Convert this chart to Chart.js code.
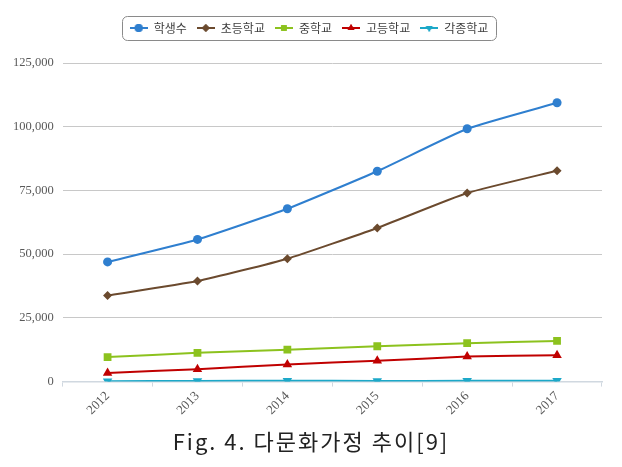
<!DOCTYPE html>
<html><head><meta charset="utf-8">
<script src="https://cdn.jsdelivr.net/npm/chart.js@4.4.0/dist/chart.umd.min.js"></script>
<style>html,body{margin:0;padding:0;background:#fff}#wrap{width:622px;height:467px}</style>
</head><body><div id="wrap"><canvas id="c" width="622" height="467"></canvas></div>
<script>
const years = ['2012','2013','2014','2015','2016','2017'];
const students = [46954, 55780, 67806, 82536, 99186, 109387];
const elementary = [33740, 39430, 48225, 60283, 73972, 82733];
const middle = [9627, 11294, 12525, 13865, 15080, 15945];
const high = [3409, 4827, 6734, 8146, 9816, 10334];
const misc = [178, 229, 322, 242, 318, 375];
const seriesNames = ['학생수','초등학교','중학교','고등학교','각종학교'];
const yTicks = [0, 25000, 50000, 75000, 100000, 125000];
const captionText = 'Fig. 4. 다문화가정 추이[9]';

const colors = ['#2F7FCF','#6B4A2E','#8CC21E','#C00000','#1CA8C8'];
const styles = ['circle','rectRot','rect','triangle','triangle'];
const rots = [0,0,0,0,180];
const radii = [4.5,4.5,5.5,5.5,5.5];
const allData = [students, elementary, middle, high, misc];
const LEG_SHIFT = 6;

function legendIcon(i){
  const cv = document.createElement('canvas');
  cv.width = 18; cv.height = 10;
  const g = cv.getContext('2d');
  g.strokeStyle = colors[i]; g.lineWidth = 2;
  g.beginPath(); g.moveTo(0,5); g.lineTo(18,5); g.stroke();
  g.fillStyle = colors[i];
  Chart.helpers.drawPoint(g, {pointStyle: styles[i], radius: 4, rotation: rots[i], borderWidth: 0}, 9, 5);
  g.fill();
  return cv;
}

const boxPlugin = {
  id: 'legendBox',
  beforeInit(chart){
    const lg = chart.legend;
    const origFit = lg.fit;
    lg.fit = function(){ origFit.call(this); this.height += 20; };
    const origDraw = lg.draw;
    lg.draw = function(){
      this.ctx.save(); this.ctx.translate(LEG_SHIFT, 1);
      origDraw.call(this);
      this.ctx.restore();
    };
  },
  afterDraw(chart){
    const hb = chart.legend.legendHitBoxes;
    const ctx = chart.ctx;
    if(hb && hb.length){
      let l = Infinity, r = -Infinity, t = Infinity, b = -Infinity;
      hb.forEach(h=>{l=Math.min(l,h.left);r=Math.max(r,h.left+h.width);t=Math.min(t,h.top);b=Math.max(b,h.top+h.height);});
      l += LEG_SHIFT; r += LEG_SHIFT; t += 1; b += 1;
      ctx.save();
      ctx.strokeStyle = '#8a8a8a'; ctx.lineWidth = 1;
      ctx.beginPath();
      ctx.roundRect(Math.round(l-8)+0.5, Math.round(t-6)+0.5, Math.round(r-l+15), Math.round(b-t+12), 5);
      ctx.stroke();
      ctx.restore();
    }
    ctx.save();
    ctx.font = '22px "Noto Sans CJK KR"';
    ctx.letterSpacing = '2px';
    ctx.fillStyle = '#222';
    ctx.textAlign = 'center';
    ctx.textBaseline = 'middle';
    ctx.fillText(captionText, 311, 442);
    ctx.restore();
  }
};

new Chart(document.getElementById('c'), {
  type: 'line',
  data: {
    labels: years,
    datasets: allData.map((d,i)=>({
      label: seriesNames[i],
      data: d,
      borderColor: colors[i],
      backgroundColor: colors[i],
      borderWidth: 2,
      pointStyle: styles[i],
      pointRotation: rots[i],
      pointRadius: radii[i],
      pointBorderWidth: 0,
      tension: 0.15,
      fill: false
    }))
  },
  options: {
    responsive: false,
    animation: false,
    layout: {padding: {left: 4, right: 20, top: 11, bottom: 47}},
    plugins: {
      legend: {
        position: 'top',
        labels: {
          usePointStyle: true,
          pointStyleWidth: 18,
          padding: 10,
          font: {family: '"Noto Sans CJK KR"', size: 12},
          color: '#404040',
          generateLabels(chart){
            return chart.data.datasets.map((ds,i)=>({
              text: ds.label, pointStyle: legendIcon(i), fillStyle: colors[i],
              strokeStyle: colors[i], lineWidth: 0, datasetIndex: i, fontColor: '#404040'
            }));
          }
        }
      },
      title: {display: false},
      tooltip: {enabled: false}
    },
    scales: {
      x: {
        offset: true,
        grid: {offset: true, drawOnChartArea: false, tickLength: 5, color: '#d0d8e0'},
        border: {color: '#d0d8e0', width: 1.5},
        ticks: {maxRotation: 45, minRotation: 45, color: '#595959', font: {family: '"Liberation Serif"', size: 13}, padding: 2}
      },
      y: {
        min: 0, max: 125000,
        afterBuildTicks(axis){ axis.ticks = yTicks.map(v=>({value:v})); },
        grid: {color: '#c8c8c8', drawTicks: false},
        border: {display: false},
        ticks: {color: '#595959', padding: 9, font: {family: '"Liberation Serif"', size: 12.5},
          callback: v => v.toLocaleString('en-US')}
      }
    }
  },
  plugins: [boxPlugin]
});
</script></body></html>
